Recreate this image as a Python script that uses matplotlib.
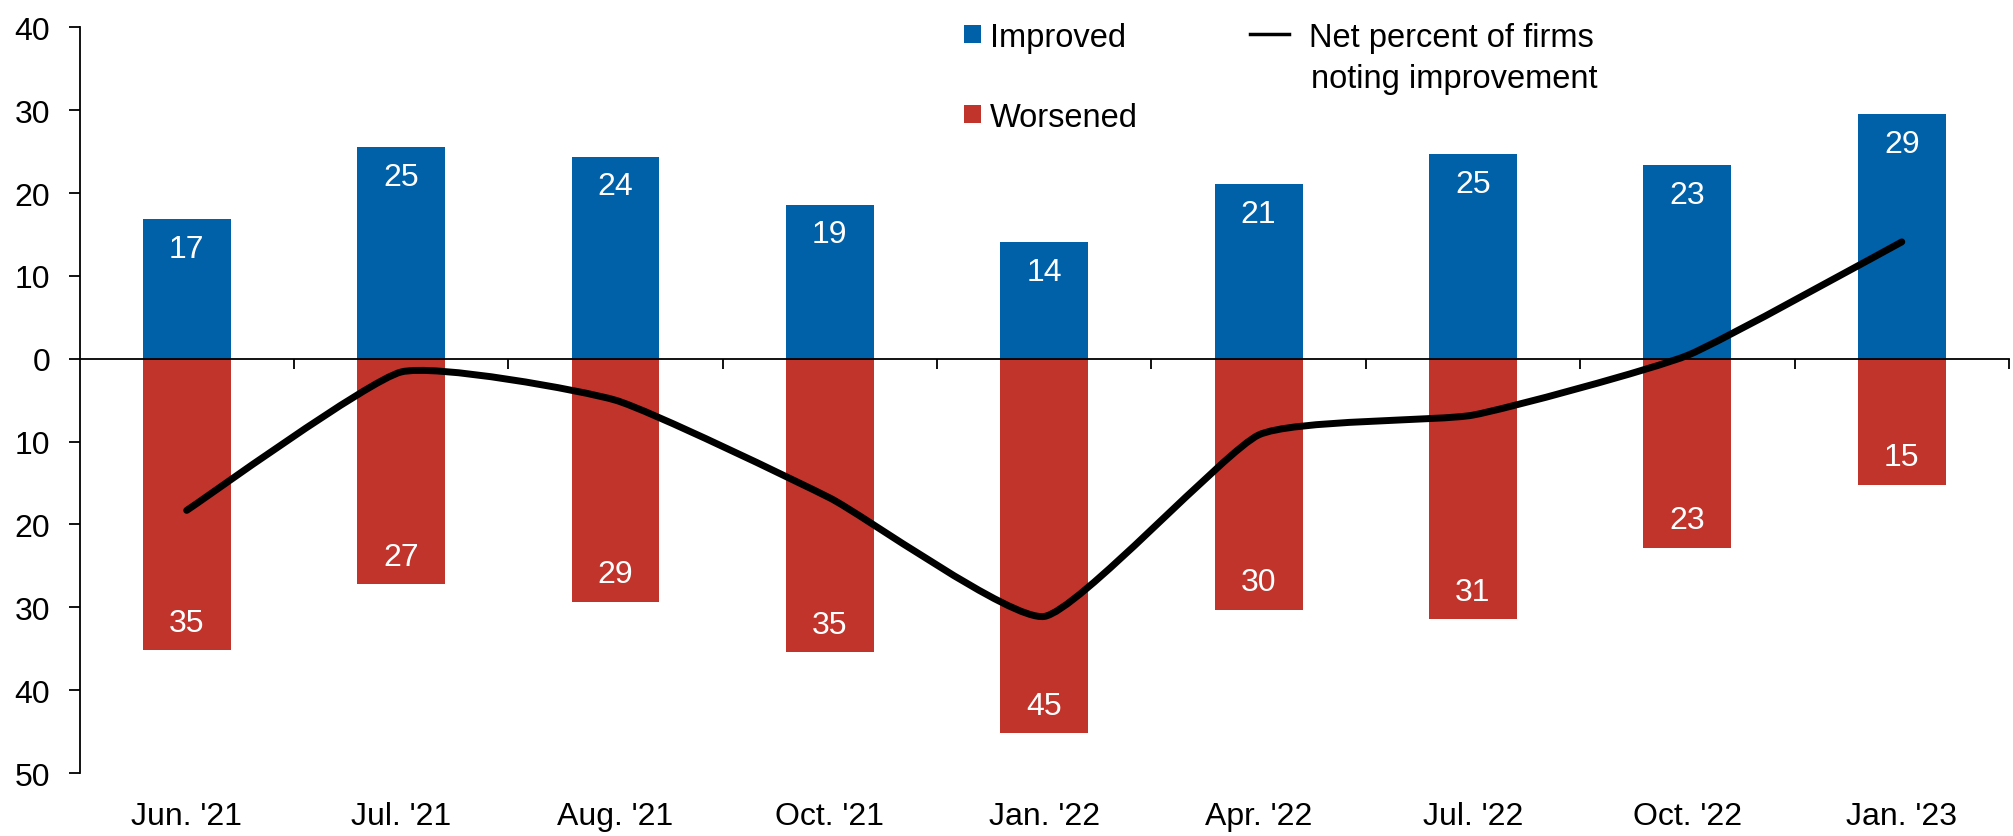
import numpy as np
import matplotlib.pyplot as plt
from matplotlib.path import Path
from matplotlib.patches import PathPatch

plt.rcParams['font.family'] = ['Liberation Sans', 'DejaVu Sans']

# data
categories = ["Jun. '21", "Jul. '21", "Aug. '21", "Oct. '21", "Jan. '22",
              "Apr. '22", "Jul. '22", "Oct. '22", "Jan. '23"]
improved = [16.9, 25.5, 24.4, 18.6, 14.1, 21.1, 24.7, 23.4, 29.5]
worsened = [35.2, 27.2, 29.3, 35.4, 45.2, 30.3, 31.4, 22.8, 15.2]
improved_lbl = [17, 25, 24, 19, 14, 21, 25, 23, 29]
worsened_lbl = [35, 27, 29, 35, 45, 30, 31, 23, 15]
net = [-18.3, -1.6, -5.0, -16.8, -31.1, -9.2, -6.8, 0.4, 14.1]

blue = '#0060A8'
red = '#C1342B'

fig = plt.figure(figsize=(20.13, 8.37), dpi=100)
ax = fig.add_axes([0.0395, 0.0752, 0.9585, 0.891])

x = np.arange(len(categories))
w = 0.41
ax.bar(x, improved, width=w, color=blue, label='Improved', zorder=2)
ax.bar(x, [-v for v in worsened], width=w, color=red, label='Worsened', zorder=2)

# lightly smoothed line (Excel style), bezier path through the points
pts = np.column_stack([x, net]).astype(float)
verts = [tuple(pts[0])]
codes = [Path.MOVETO]
k = 1 / 13.0
for i in range(len(pts) - 1):
    p0 = pts[i - 1] if i > 0 else pts[i]
    p1 = pts[i]
    p2 = pts[i + 1]
    p3 = pts[i + 2] if i + 2 < len(pts) else pts[i + 1]
    c1 = p1 + (p2 - p0) * k
    c2 = p2 - (p3 - p1) * k
    verts += [tuple(c1), tuple(c2), tuple(p2)]
    codes += [Path.CURVE4, Path.CURVE4, Path.CURVE4]
ax.add_patch(PathPatch(Path(verts, codes), facecolor='none', edgecolor='black',
                       lw=5, capstyle='round', joinstyle='round', zorder=3))
ax.plot([], [], color='black', lw=2.5, label='Net percent of firms')

for i in range(len(x)):
    ax.text(x[i], improved[i] - 3.6, str(improved_lbl[i]), color='white',
            ha='center', va='center', fontsize=23, zorder=4)
    ax.text(x[i], -worsened[i] + 3.3, str(worsened_lbl[i]), color='white',
            ha='center', va='center', fontsize=23, zorder=4)

ax.set_xlim(-0.5, len(categories) - 0.5)
ax.set_ylim(-50, 40)

ax.spines['top'].set_visible(False)
ax.spines['right'].set_visible(False)
ax.spines['bottom'].set_position(('data', 0))
ax.spines['left'].set_linewidth(1.3)
ax.spines['bottom'].set_linewidth(1.3)

yt = np.arange(-50, 41, 10)
ax.set_yticks(yt)
ax.set_yticklabels([str(abs(v)) for v in yt], fontsize=23)
ax.tick_params(axis='y', direction='out', length=8, width=1.3, pad=13)

ax.set_xticks(np.arange(0.5, len(categories), 1))
ax.set_xticklabels([])
ax.tick_params(axis='x', direction='out', length=7, width=1.3)

for i, c in enumerate(categories):
    ax.text(x[i], -0.0575, c, transform=ax.get_xaxis_transform(),
            ha='center', va='center', fontsize=23)

h, l = ax.get_legend_handles_labels()
leg1 = fig.legend([h[1], h[2]], [l[1], l[2]], loc='upper left',
                  bbox_to_anchor=(0.479, 0.973), frameon=False, fontsize=23.5,
                  handlelength=0.5, handleheight=0.5, handletextpad=0.3,
                  labelspacing=1.5, borderpad=0, borderaxespad=0)
fig.legend([h[0]], [l[0]], loc='upper left', bbox_to_anchor=(0.621, 0.973),
           frameon=False, fontsize=23.5, handlelength=1.2, handletextpad=0.6,
           borderpad=0, borderaxespad=0)
fig.text(0.6515, 0.905, 'noting improvement', fontsize=23.5, va='center')

fig.savefig('out.png', dpi=100)
